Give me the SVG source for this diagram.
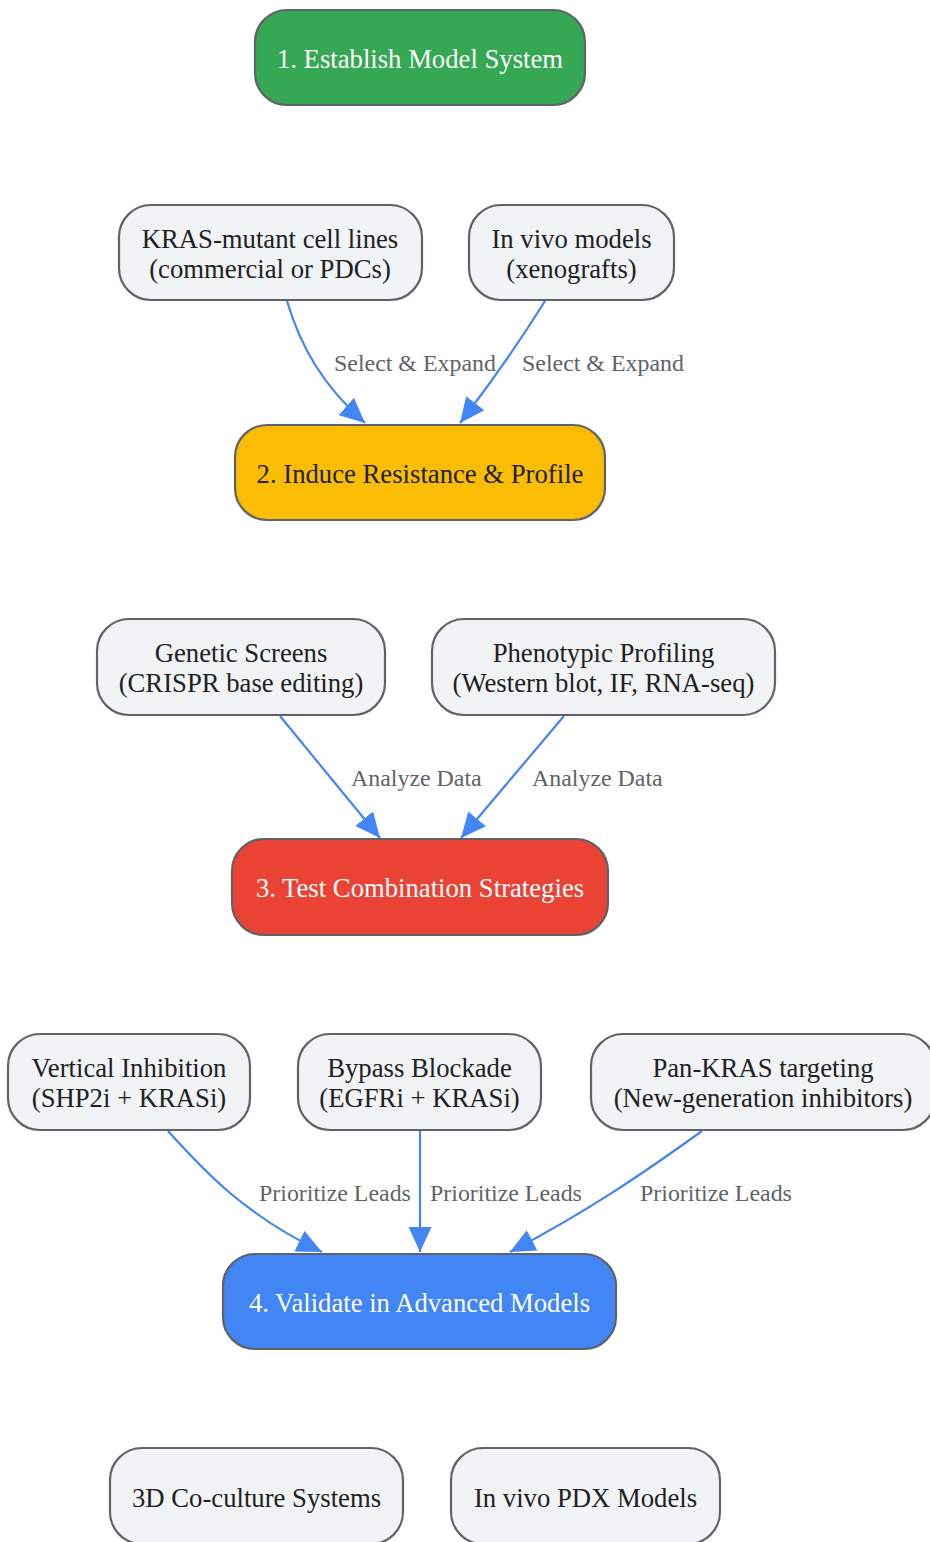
<svg xmlns="http://www.w3.org/2000/svg" width="930" height="1542" viewBox="0 0 930 1542">
<style>
.n{stroke:#5f6368;stroke-width:2.2}
.g{fill:#f1f3f4}
.t{font-family:"Liberation Serif",serif;font-size:26.7px;text-anchor:middle;fill:#202124}
.w{fill:#ffffff}
.e{fill:none;stroke:#4285f4;stroke-width:2.2}
.l{font-family:"Liberation Serif",serif;font-size:23.9px;fill:#5f6368}
</style>
<defs>
<marker id="ah" markerUnits="userSpaceOnUse" markerWidth="25" markerHeight="23" refX="25" refY="11.5" orient="auto">
<path d="M0,0 L25,11.5 L0,23 z" fill="#4285f4"/>
</marker>
</defs>
<rect width="930" height="1542" fill="#ffffff"/>
<g id="connectors">
<path class="e" d="M287,301 C300,345 322,385 365,423" marker-end="url(#ah)"/>
<path class="e" d="M545,301 C522,338 497,375 460,423" marker-end="url(#ah)"/>
<path class="e" d="M280,716 L380,838" marker-end="url(#ah)"/>
<path class="e" d="M564,716 L461,838" marker-end="url(#ah)"/>
<path class="e" d="M168,1131 C205,1172 245,1215 322,1252" marker-end="url(#ah)"/>
<path class="e" d="M420,1131 L420,1252" marker-end="url(#ah)"/>
<path class="e" d="M702,1131 C645,1172 590,1210 510,1252" marker-end="url(#ah)"/>
<text class="l" x="334" y="371">Select &amp; Expand</text>
<text class="l" x="522" y="371">Select &amp; Expand</text>
<text class="l" x="351" y="786">Analyze Data</text>
<text class="l" x="532" y="786">Analyze Data</text>
<text class="l" x="259" y="1201">Prioritize Leads</text>
<text class="l" x="430" y="1201">Prioritize Leads</text>
<text class="l" x="640" y="1201">Prioritize Leads</text>
</g>
<g id="n1"><rect class="n" x="255" y="10" width="330" height="95" rx="32" fill="#34a853"/><text class="t w" x="420" y="68">1. Establish Model System</text></g>
<g id="kras"><rect class="n g" x="119" y="205" width="303" height="95" rx="32"/><text class="t" x="270" y="248">KRAS-mutant cell lines</text><text class="t" x="270" y="278">(commercial or PDCs)</text></g>
<g id="invivo"><rect class="n g" x="469" y="205" width="205" height="95" rx="32"/><text class="t" x="571.5" y="248">In vivo models</text><text class="t" x="571.5" y="278">(xenografts)</text></g>
<g id="n2"><rect class="n" x="235" y="425" width="370" height="95" rx="32" fill="#fbbc04"/><text class="t" x="420" y="483">2. Induce Resistance &amp; Profile</text></g>
<g id="genetic"><rect class="n g" x="97" y="619" width="288" height="96" rx="32"/><text class="t" x="241" y="662">Genetic Screens</text><text class="t" x="241" y="692">(CRISPR base editing)</text></g>
<g id="pheno"><rect class="n g" x="432" y="619" width="343" height="96" rx="32"/><text class="t" x="603.5" y="662">Phenotypic Profiling</text><text class="t" x="603.5" y="692">(Western blot, IF, RNA-seq)</text></g>
<g id="n3"><rect class="n" x="232" y="839" width="376" height="96" rx="32" fill="#ea4335"/><text class="t w" x="420" y="897">3. Test Combination Strategies</text></g>
<g id="vertical"><rect class="n g" x="8" y="1034" width="242" height="96" rx="32"/><text class="t" x="129" y="1077">Vertical Inhibition</text><text class="t" x="129" y="1107">(SHP2i + KRASi)</text></g>
<g id="bypass"><rect class="n g" x="298" y="1034" width="243" height="96" rx="32"/><text class="t" x="419.5" y="1077">Bypass Blockade</text><text class="t" x="419.5" y="1107">(EGFRi + KRASi)</text></g>
<g id="pankras"><rect class="n g" x="591" y="1034" width="344" height="96" rx="32"/><text class="t" x="763" y="1077">Pan-KRAS targeting</text><text class="t" x="763" y="1107">(New-generation inhibitors)</text></g>
<g id="n4"><rect class="n" x="223" y="1254" width="393" height="95" rx="32" fill="#4285f4"/><text class="t w" x="419.5" y="1312">4. Validate in Advanced Models</text></g>
<g id="coculture"><rect class="n g" x="110" y="1448" width="293" height="96" rx="32"/><text class="t" x="256.5" y="1507">3D Co-culture Systems</text></g>
<g id="pdx"><rect class="n g" x="451" y="1448" width="269" height="96" rx="32"/><text class="t" x="585.5" y="1507">In vivo PDX Models</text></g>
</svg>
